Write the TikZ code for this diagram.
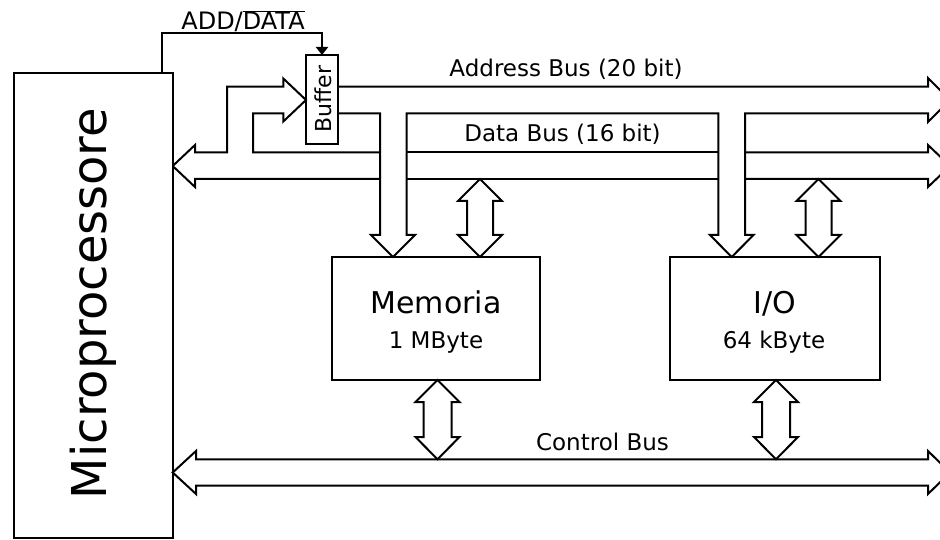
\documentclass[tikz,border=0pt]{standalone}
\usepackage{fontspec}
\setmainfont{DejaVu Sans}
\usetikzlibrary{arrows.meta}
\tikzset{
  blk/.style={draw, line width=2pt, inner sep=0pt, outer sep=0pt},
  lbl/.style={inner sep=0pt, anchor=base},
  sig/.style={-{Triangle[width=12pt,length=8pt]}}
}
\newcommand{\fs}[1]{\fontsize{#1pt}{#1pt}\selectfont}
\begin{document}
\begin{tikzpicture}[x=1pt,y=-1pt,line width=2pt,line join=miter]
\useasboundingbox (0,0) rectangle (940,540);
\clip (0,0) rectangle (940,540);
\fill[white] (0,0) rectangle (940,540);

% blocks
\node[blk, minimum width=158.7pt, minimum height=464.5pt] (micro) at (93.35,305.25) {};
\node[blk, minimum width=32pt, minimum height=89pt] (buf) at (322,99.5) {};
\node[blk, minimum width=207.5pt, minimum height=123pt] (mem) at (435.75,318.5) {};
\node[blk, minimum width=209.5pt, minimum height=123pt] (io) at (774.75,318.5) {};

% labels
\node[lbl, rotate=90] (microlbl) at (106.5,303.5) {\fs{48}Microprocessore};
\node[lbl, rotate=90] (buflbl) at (331,99) {\fs{22}Buffer};
\node[lbl] (memlbl) at (436,313.3) {\fs{30}Memoria};
\node[lbl] (memsize) at (436,348) {\fs{23}1 MByte};
\node[lbl] (iolbl) at (775,313.3) {\fs{30}I/O};
\node[lbl] (iosize) at (774,348) {\fs{23}64 kByte};
\node[lbl] (addlbl) at (243,30) {\fs{24}ADD/$\overline{\hbox{DATA}}$};
\node[lbl] (ablbl) at (566,76.7) {\fs{23}Address Bus (20 bit)};
\node[lbl] (dblbl) at (562.5,141.7) {\fs{23}Data Bus (16 bit)};
\node[lbl] (cblbl) at (602.5,450) {\fs{23}Control Bus};

% ADD/DATA control line
\draw[sig] (micro.north -| 161.7,0) |- (buf.north |- 0,33.5) -- (buf.north);

% Address bus (hollow, with taps to memory and I/O)
\draw (buf.east |- 0,86.7) -- (928,86.7) -- (928,78) -- (950,100) -- (928,122) -- (928,113.3)
  -- (745,113.3) -- (745,235) -- (753.5,235) -- (io.north -| 731.7,0) -- (710,235) -- (718.3,235) -- (718.3,113.3)
  -- (406.7,113.3) -- (406.7,235) -- (415,235) -- (mem.north -| 393,0) -- (371,235) -- (380,235) -- (380,113.3)
  -- (buf.east |- 0,113.3);

% Data bus (hollow double arrow with branch into buffer)
\draw (micro.east |- 0,166) -- (195,145) -- (195,152.5) -- (227,152.5) -- (227,86.7) -- (283.3,86.7)
  -- (283.3,78.5) -- (buf.west |- 0,100) -- (283.3,121.5) -- (283.3,113.3) -- (253,113.3) -- (253,152.5) -- (380,152.5);
\draw (406.7,152.5) -- (718.3,152.5);
\draw (745,152.5) -- (928,152.5) -- (928,145) -- (950,166) -- (928,187) -- (928,179) -- (745,179);
\draw (718.3,179) -- (406.7,179);
\draw (380,179) -- (195,179) -- (195,187) -- (micro.east |- 0,166);

% Data bus <-> memory / I/O
\foreach \cx/\nm in {480/mem, 818.5/io}{
  \draw (\cx,179) -- (\cx+22,201) -- (\cx+13,201) -- (\cx+13,235) -- (\cx+22,235) -- (\nm.north -| \cx,0)
    -- (\cx-22,235) -- (\cx-13,235) -- (\cx-13,201) -- (\cx-22,201) -- cycle;
}

% Memory / I/O <-> control bus
\foreach \cx/\nm in {437.5/mem, 776/io}{
  \draw (\nm.south -| \cx,0) -- (\cx+22,402) -- (\cx+14,402) -- (\cx+14,437) -- (\cx+22,437) -- (\cx,459.3)
    -- (\cx-22,437) -- (\cx-14,437) -- (\cx-14,402) -- (\cx-22,402) -- cycle;
}

% Control bus
\draw (micro.east |- 0,472.5) -- (196,451) -- (196,459.3) -- (928,459.3) -- (928,451) -- (950,472.5)
  -- (928,494) -- (928,485.7) -- (196,485.7) -- (196,494) -- cycle;
\end{tikzpicture}
\end{document}
